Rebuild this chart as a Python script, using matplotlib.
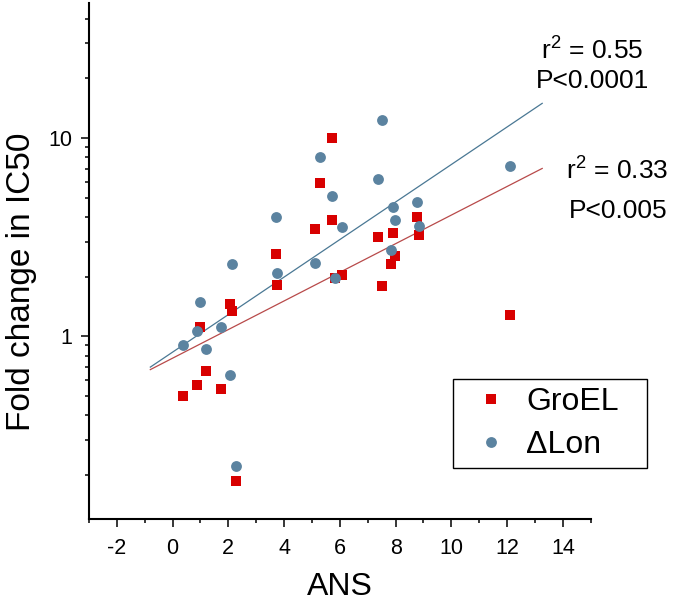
import matplotlib
matplotlib.use("Agg")
import matplotlib.pyplot as plt
from matplotlib.ticker import LogLocator, NullFormatter, FixedLocator

plt.rcParams['font.family'] = ['Liberation Sans', 'DejaVu Sans']
plt.rcParams['axes.unicode_minus'] = False
plt.rcParams['mathtext.fontset'] = 'custom'
plt.rcParams['mathtext.rm'] = 'Liberation Sans'
plt.rcParams['mathtext.it'] = 'Liberation Sans:italic'

# GroEL (red squares)
groel_x = [5.72, 5.27, 5.73, 5.11, 8.78, 7.90, 8.84, 7.36, 3.70, 7.99, 7.85, 6.06,
           5.82, 3.74, 7.53, 2.06, 2.13, 12.09, 0.99, 1.20, 1.72, 0.87, 0.36, 2.28]
groel_y = [10.0, 5.95, 3.87, 3.49, 4.0, 3.31, 3.23, 3.18, 2.59, 2.53, 2.32, 2.04,
           1.97, 1.81, 1.80, 1.46, 1.34, 1.28, 1.11, 0.67, 0.54, 0.57, 0.50, 0.187]

# dLon (blue circles)
lon_x = [7.51, 5.27, 12.09, 7.36, 5.72, 8.78, 7.90, 3.70, 7.99, 8.84, 6.06, 7.85,
         5.11, 2.13, 3.73, 5.82, 0.99, 1.72, 0.86, 0.36, 1.20, 2.06, 2.28]
lon_y = [12.4, 8.03, 7.2, 6.24, 5.11, 4.75, 4.48, 4.0, 3.88, 3.61, 3.55, 2.72,
         2.34, 2.31, 2.09, 1.97, 1.49, 1.12, 1.07, 0.90, 0.86, 0.64, 0.223]

# fitted lines (end points)
fit_x = [-0.80, 13.26]
fit_lon = [0.70, 14.97]
fit_groel = [0.68, 7.03]

red = '#d80000'
blue = '#5b83a0'

fig = plt.figure(figsize=(6.74, 6.04), dpi=100)
ax = fig.add_axes([89 / 674, 1 - 519 / 604, 501.7 / 674, 516 / 604])

ax.plot(fit_x, fit_lon, color='#4a7894', lw=0.9, zorder=2)
ax.plot(fit_x, fit_groel, color='#b84a4a', lw=0.9, zorder=2)
ax.plot(groel_x, groel_y, 's', color=red, ms=7.2, mec=red, mew=0,
        label='GroEL', zorder=3)
ax.plot(lon_x, lon_y, 'o', color=blue, ms=7.8, mec=blue, mew=0,
        label='\u0394Lon', zorder=4)

ax.set_yscale('log')
ax.set_xlim(-3, 15)
ax.set_ylim(0.12, 48)

ax.set_xticks(range(-2, 15, 2))
ax.xaxis.set_minor_locator(FixedLocator(range(-3, 16, 2)))
ax.set_yticks([1, 10])
ax.set_yticklabels(['1', '10'])
ax.yaxis.set_minor_locator(LogLocator(base=10, subs=range(2, 10)))
ax.yaxis.set_minor_formatter(NullFormatter())

for s in ['top', 'right']:
    ax.spines[s].set_visible(False)
for s in ['left', 'bottom']:
    ax.spines[s].set_linewidth(1.5)

ax.tick_params(which='major', length=5.5, width=1.1, labelsize=15.5)
ax.tick_params(axis='x', which='major', pad=8)
ax.tick_params(axis='y', which='major', pad=6.5)
ax.tick_params(which='minor', length=3, width=1.1)

ax.set_xlabel('ANS', fontsize=23)
ax.set_ylabel('Fold change in IC50', fontsize=24)
ax.xaxis.set_label_coords(0.5, -0.103)
ax.yaxis.set_label_coords(-0.103, 0.46)

leg = ax.legend(loc='upper left', bbox_to_anchor=(0.7255, 0.1008, 0.3867, 0.1705),
                mode='expand', fontsize=23, frameon=True, fancybox=False,
                framealpha=1, edgecolor='black', borderpad=0.25,
                handlelength=1.9, handletextpad=0.15, labelspacing=0.4,
                borderaxespad=0)
leg.get_frame().set_linewidth(1.0)

fig.text(592 / 674, 1 - 60 / 604, r'r$^{\mathregular{2}}$ = 0.55', ha='center',
         va='baseline', fontsize=19)
fig.text(593 / 674, 1 - 88 / 604, 'P<0.0001', ha='center', va='baseline', fontsize=19)
fig.text(617 / 674, 1 - 180 / 604, r'r$^{\mathregular{2}}$ = 0.33', ha='center',
         va='baseline', fontsize=19)
fig.text(618 / 674, 1 - 218 / 604, 'P<0.005', ha='center', va='baseline', fontsize=19)

fig.savefig('out.png', dpi=100)
